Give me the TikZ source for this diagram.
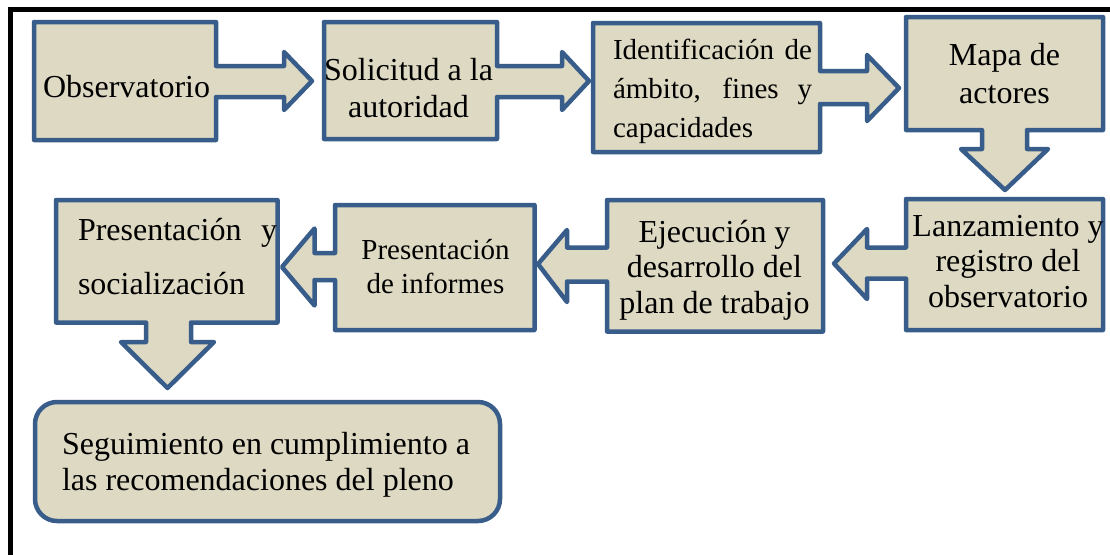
\documentclass[tikz,border=0pt]{standalone}
\usepackage{fontspec}
\setmainfont{Liberation Serif}
\definecolor{boxfill}{HTML}{DDD9C3}
\definecolor{boxline}{HTML}{385D8A}
\tikzset{
  shapebox/.style={fill=boxfill, draw=boxline, line width=4.5pt, line join=round},
  frameline/.style={draw=black, line width=5pt},
  txt/.style={inner sep=0pt, outer sep=0pt, anchor=base},
  txtl/.style={inner sep=0pt, outer sep=0pt, anchor=base west},
}
\begin{document}
\begin{tikzpicture}[x=1pt,y=-1pt]
\useasboundingbox (0,0) rectangle (1110,554);
\clip (0,0) rectangle (1110,554);
\fill[white] (0,0) rectangle (1110,554);
\draw[frameline] (10,9.5) rectangle (1140,590);

% shapes (boxes with their block arrows)
\draw[shapebox] (34,22) -- (216,22) -- (216,66) -- (284,66) -- (284,52) -- (312,81) -- (284,110) -- (284,97) -- (216,97) -- (216,140) -- (34,140) -- cycle;
\draw[shapebox] (324,22) -- (497,22) -- (497,66) -- (562,66) -- (562,52) -- (589,81) -- (562,110) -- (562,97) -- (497,97) -- (497,139) -- (324,139) -- cycle;
\draw[shapebox] (593,23) -- (820,23) -- (820,71) -- (867,71) -- (867,55) -- (899,88) -- (867,121) -- (867,104) -- (820,104) -- (820,152) -- (593,152) -- cycle;
\draw[shapebox] (906,17) -- (1103,17) -- (1103,130) -- (1027,130) -- (1027,149) -- (1048,149) -- (1005,190) -- (961,149) -- (982,149) -- (982,130) -- (906,130) -- cycle;
\draw[shapebox] (906,199) -- (1103,199) -- (1103,330) -- (906,330) -- (906,278.5) -- (867,278.5) -- (867,299) -- (834,263.5) -- (867,229) -- (867,247.5) -- (906,247.5) -- cycle;
\draw[shapebox] (607,200) -- (823,200) -- (823,331.5) -- (607,331.5) -- (607,281.5) -- (567,281.5) -- (567,302) -- (538,264) -- (567,230) -- (567,247.5) -- (607,247.5) -- cycle;
\draw[shapebox] (335,205) -- (534.5,205) -- (534.5,330) -- (335,330) -- (335,280) -- (314.5,280) -- (314.5,305.5) -- (282,267) -- (314.5,228.5) -- (314.5,253) -- (335,253) -- cycle;
\draw[shapebox] (56,200) -- (277.5,200) -- (277.5,322.5) -- (191,322.5) -- (191,342) -- (214,342) -- (167.5,388) -- (121,342) -- (146,342) -- (146,322.5) -- (56,322.5) -- cycle;
\draw[shapebox, rounded corners=22pt] (35,402) rectangle (500,521);

% texts
\node[txtl] (obs) at (43,97) {\fontsize{32}{37}\selectfont Observatorio};
\node[txt] (sol) at (408.5,80) {\parbox[t]{260pt}{\centering\fontsize{32}{37}\selectfont Solicitud a la\\autoridad}};
\node[txtl] (ide) at (613,59) {\parbox[t]{199pt}{\raggedright\fontsize{29}{39}\selectfont \makebox[199pt][s]{Identificación de}\\\makebox[199pt][s]{ámbito, fines y}\\capacidades}};
\node[txt] (map) at (1004.5,65) {\parbox[t]{220pt}{\centering\fontsize{32}{38}\selectfont Mapa de\\actores}};
\node[txt] (lan) at (1008,236) {\parbox[t]{240pt}{\centering\fontsize{32}{35.5}\selectfont Lanzamiento y\\registro del\\observatorio}};
\node[txt] (eje) at (714.5,242) {\parbox[t]{240pt}{\centering\fontsize{32}{35.7}\selectfont Ejecución y\\desarrollo del\\plan de trabajo}};
\node[txt] (inf) at (435.5,259) {\parbox[t]{220pt}{\centering\fontsize{29}{34}\selectfont Presentación\\de informes}};
\node[txtl] (soc) at (78,240) {\parbox[t]{199pt}{\raggedright\fontsize{32}{54}\selectfont \makebox[199pt][s]{Presentación y}\\socialización}};
\node[txtl] (seg) at (62,454) {\parbox[t]{440pt}{\raggedright\fontsize{32}{36}\selectfont Seguimiento en cumplimiento a\\las recomendaciones del pleno}};
\end{tikzpicture}
\end{document}
